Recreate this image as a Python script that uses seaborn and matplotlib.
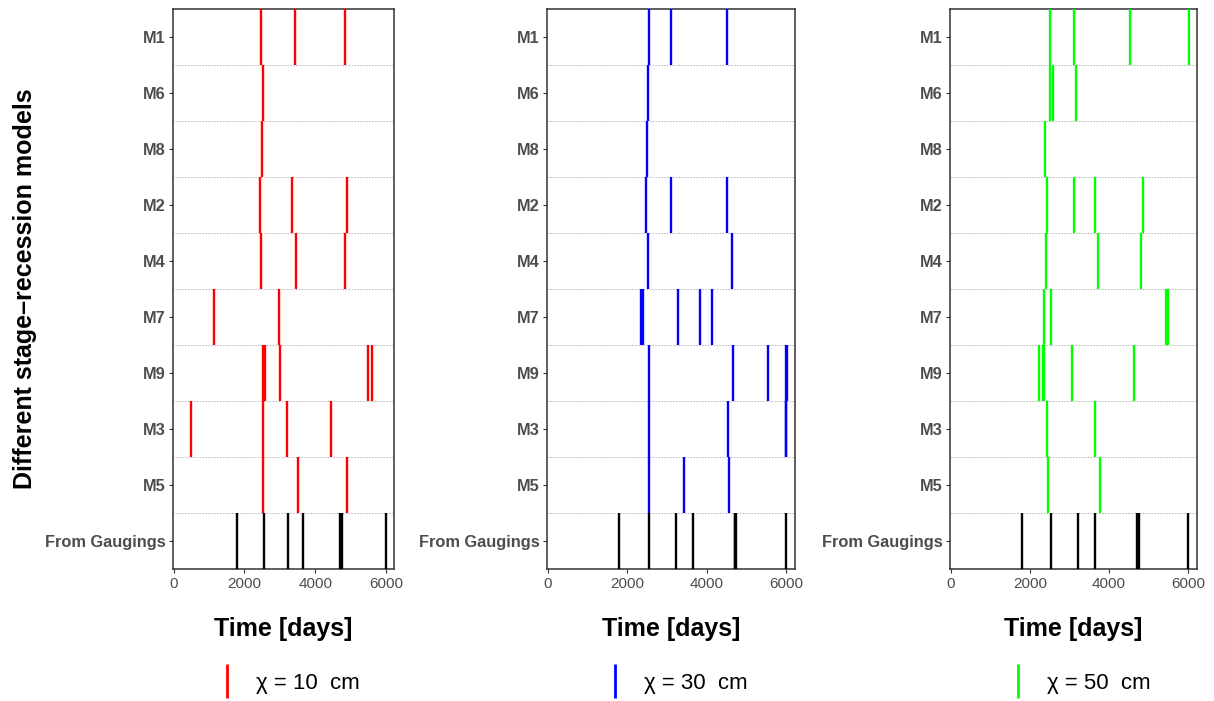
import pandas as pd
import numpy as np
import matplotlib
matplotlib.use("Agg")
import matplotlib.pyplot as plt
from matplotlib.lines import Line2D
import seaborn as sns

# --------------------------------------------------------------------------------
# Dados
# --------------------------------------------------------------------------------

# ordem de cima para baixo
models = ["M1", "M6", "M8", "M2", "M4", "M7", "M9", "M3", "M5", "From Gaugings"]

gaugings = [1800, 2545, 3222, 3648, 4700, 4722, 4745, 5995]

chi10_days = [
    [2468, 3421, 4840],                 # M1
    [2534],                             # M6
    [2505],                             # M8
    [2448, 3356, 4880],                 # M2
    [2457, 3450, 4851],                 # M4
    [1135, 2968],                       # M7
    [2525, 2582, 3007, 5492, 5597],     # M9
    [491, 2534, 3206, 4434],            # M3
    [2525, 3498, 4897],                 # M5
]

chi30_days = [
    [2541, 3112, 4504],
    [2533],
    [2508],
    [2475, 3112, 4521],
    [2516, 4630],
    [2357, 2400, 3271, 3824, 4136],
    [2541, 4664, 5545, 5995, 6012],
    [2541, 4529, 5985, 6000],
    [2559, 3439, 4563],
]

chi50_days = [
    [2517, 3117, 4517, 6015],
    [2517, 2584, 3175],
    [2384],
    [2434, 3117, 3650, 4850],
    [2409, 3717, 4817],
    [2367, 2525, 5434, 5470, 5500],
    [2242, 2325, 2350, 3059, 4634],
    [2425, 3650],
    [2450, 3759],
]

chi_values = [10, 30, 50]
colors = ["#FF0000", "#0000FF", "#00FF00"]
panel_days = [chi10_days, chi30_days, chi50_days]

# posições dos painéis em pixels (esquerda, largura)
panel_px = [(173, 221), (547, 248), (950, 247)]
W, H = 1214, 701
TOP, BOTTOM = 9, 569

sns.set_theme(style="white")
plt.rcParams["font.family"] = ["Liberation Sans", "DejaVu Sans"]
plt.rcParams["text.color"] = "black"

fig = plt.figure(figsize=(W / 100, H / 100), dpi=100)

row_pos = {m: len(models) - 1 - i for i, m in enumerate(models)}
row_h_pt = (BOTTOM - TOP) / len(models) * 72 / 100

for k, (days, chi, col) in enumerate(zip(panel_days, chi_values, colors)):
    left, width = panel_px[k]
    ax = fig.add_axes([left / W, (H - BOTTOM) / H, width / W, (BOTTOM - TOP) / H])

    rows = []
    for m, ds in zip(models[:-1], days):
        for d in ds:
            rows.append({"day": d, "model": m})
    df = pd.DataFrame(rows)
    df["row"] = df["model"].map(row_pos)
    dg = pd.DataFrame({"day": gaugings, "model": "From Gaugings"})
    dg["row"] = dg["model"].map(row_pos)

    for y in np.arange(0.5, len(models) - 1):
        ax.axhline(y, color="#b5b5b5", lw=0.7, ls=(0, (1.5, 1.5)), zorder=1)

    sns.scatterplot(data=df, x="day", y="row", marker="|", s=row_h_pt ** 2,
                    linewidth=1.7, color=col, ax=ax, legend=False, zorder=3)
    sns.scatterplot(data=dg, x="day", y="row", marker="|", s=row_h_pt ** 2,
                    linewidth=1.7, color="black", ax=ax, legend=False, zorder=3)

    ax.set_xlim(-15, 6220)
    ax.set_ylim(-0.5, len(models) - 0.5)
    ax.set_xticks([0, 2000, 4000, 6000])
    ax.set_yticks([row_pos[m] for m in models])
    ax.set_yticklabels(models, fontweight="bold")
    ax.tick_params(axis="both", which="both", length=3, width=0.8, color="#333333",
                   labelcolor="#4D4D4D", pad=2.5, left=True, bottom=True)
    ax.tick_params(axis="y", labelsize=11.8)
    ax.tick_params(axis="x", labelsize=11)
    for sp in ax.spines.values():
        sp.set_color("#333333")
        sp.set_linewidth(1.1)
    ax.set_ylabel("")
    ax.set_xlabel("Time [days]", fontsize=18, fontweight="bold", color="black", labelpad=19)

    handle = Line2D([], [], color=col, marker="|", ls="None", markersize=25, markeredgewidth=2)
    leg = ax.legend([handle], [f"χ = {chi}  cm"], loc="center",
                    bbox_to_anchor=(0.52, -0.204), bbox_transform=ax.transAxes,
                    frameon=False, fontsize=16, handlelength=1.0, handletextpad=0.8)
    for t in leg.get_texts():
        t.set_color("black")

fig.text(25 / W, (H - (TOP + BOTTOM) / 2) / H, "Different stage\u2013recession models",
         rotation=90, ha="center", va="center", fontsize=18, fontweight="bold",
         color="black")

fig.savefig("out.png", dpi=100)
plt.close()
